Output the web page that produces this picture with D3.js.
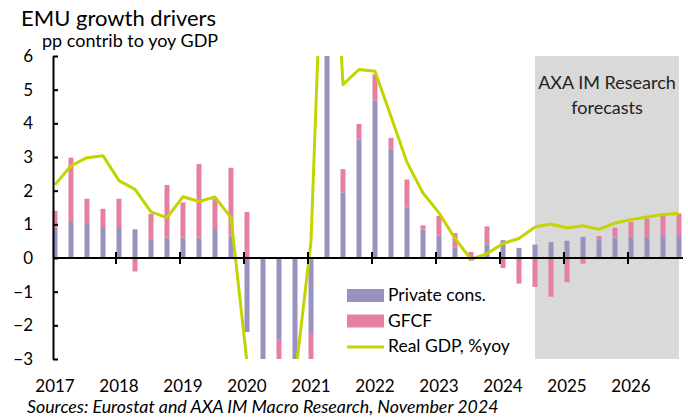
<!DOCTYPE html>
<html>
<head>
<meta charset="utf-8">
<script src="https://d3js.org/d3.v7.min.js"></script>
<style>
body{margin:0;background:#fff;}
svg{display:block;font-family:Lato,'Open Sans',sans-serif;}
</style>
</head>
<body>
<div id="chart"></div>
<script>
// quarterly data, 2017Q1 - 2026Q4
const years = [2017,2018,2019,2020,2021,2022,2023,2024,2025,2026];
const quarters = years.flatMap(y => [1,2,3,4].map(q => `${y}Q${q}`));

const privateCons = [
	0.90, 1.07, 1.04, 0.92,
	0.92, 0.85, 0.57, 0.60,
	0.60, 0.60, 0.86, 0.67,
	-2.20, -7.50, -2.43, -3.50,
	-2.23, 7.50, 1.95, 3.52,
	4.67, 3.21, 1.49, 0.84,
	0.66, 0.30, -0.08, 0.41,
	0.53, 0.30, 0.40, 0.47,
	0.51, 0.63, 0.53, 0.61,
	0.63, 0.63, 0.65, 0.65
];
const gfcf = [
	0.50, 1.91, 0.72, 0.54,
	0.84, -0.40, 0.74, 1.57,
	1.05, 2.19, 0.89, 2.01,
	1.37, -3.50, -0.90, -0.40,
	-1.00, 3.00, 0.69, 0.46,
	0.79, 0.36, 0.84, 0.13,
	0.59, 0.44, 0.18, 0.53,
	-0.30, -0.76, -0.86, -1.15,
	-0.72, -0.17, 0.12, 0.29,
	0.44, 0.54, 0.62, 0.67
];
const realGdp = [
	2.18, 2.74, 2.98, 3.04,
	2.30, 2.04, 1.37, 1.20,
	1.82, 1.68, 1.81, 1.20,
	-3.10, -14.5, -4.10, -3.60,
	0.50, 13.5, 5.15, 5.60,
	5.55, 4.20, 2.84, 1.93,
	1.34, 0.58, -0.04, 0.13,
	0.43, 0.58, 0.92, 1.01,
	0.89, 0.96, 0.85, 1.04,
	1.14, 1.22, 1.29, 1.32
];
const forecastFrom = '2024Q3';
const yTicks = [-3,-2,-1,0,1,2,3,4,5,6];
const seriesNames = ['Private cons.', 'GFCF', 'Real GDP, %yoy'];

const colors = {pc:'#9792c0', gfcf:'#e680a3', gdp:'#c3d500', shade:'#d9d9d9'};

const W = 688, H = 418;
const plotTop = 56, plotBottom = 359;

const svg = d3.select('#chart').append('svg')
	.attr('width', W)
	.attr('height', H);

// index scale; year boundary sits a bit before the Q1 bar
const q1Offset = 0.1875;
const x = d3.scaleLinear()
	.domain([-q1Offset, 40 - q1Offset])
	.range([52, 692]);

const y = d3.scaleLinear()
	.domain([-3, 6])
	.range([plotBottom, plotTop]);

const rows = quarters.map((q, i) => ({q, i, pc:privateCons[i], gfcf:gfcf[i], gdp:realGdp[i]}));

const stacked = d3.stack()
	.keys(['pc','gfcf'])
	.offset(d3.stackOffsetDiverging)(rows);

svg.append('defs').append('clipPath')
	.attr('id','plot-clip')
	.append('rect')
	.attr('x', 40).attr('y', plotTop)
	.attr('width', 660).attr('height', plotBottom - plotTop);

// forecast shading
const f0 = quarters.indexOf(forecastFrom);
svg.append('rect')
	.attr('x', x(f0))
	.attr('y', plotTop)
	.attr('width', x(quarters.length - 1) - x(f0))
	.attr('height', plotBottom - plotTop)
	.style('fill', colors.shade);

const shadeMid = (x(f0) + x(quarters.length - 1)) / 2;
svg.append('text')
	.attr('x', shadeMid).attr('y', 89)
	.attr('text-anchor','middle')
	.style('font-size','18px').style('fill','#222')
	.text('AXA IM Research');
svg.append('text')
	.attr('x', shadeMid).attr('y', 114)
	.attr('text-anchor','middle')
	.style('font-size','18px').style('fill','#222')
	.text('forecasts');

const plot = svg.append('g').attr('clip-path','url(#plot-clip)');

const barW = 5;
plot.selectAll('.series')
	.data(stacked)
	.enter()
	.append('g')
	.attr('class','series')
	.style('fill', d => colors[d.key])
	.selectAll('rect')
	.data(d => d)
	.enter()
	.append('rect')
	.attr('x', d => x(d.data.i) - barW/2)
	.attr('y', d => y(Math.max(d[0], d[1])))
	.attr('width', barW)
	.attr('height', d => Math.abs(y(d[0]) - y(d[1])));

const line = d3.line()
	.x(d => x(d.i))
	.y(d => y(d.gdp));

plot.append('path')
	.datum(rows)
	.attr('d', line)
	.style('fill','none')
	.style('stroke', colors.gdp)
	.style('stroke-width', 3)
	.style('stroke-linejoin','round');

// y axis, ticks pointing inward
const yAxis = svg.append('g')
	.attr('transform','translate(53,0)')
	.call(d3.axisRight(y).tickValues(yTicks).tickSize(5).tickSizeOuter(0).tickFormat(''));
yAxis.select('.domain').attr('stroke','#000').attr('stroke-width',2);
yAxis.selectAll('.tick line').attr('stroke','#000').attr('stroke-width',2);

const yLabels = svg.append('g')
	.attr('transform','translate(33,0)')
	.call(d3.axisLeft(y).tickValues(yTicks).tickSize(0).tickPadding(0).tickFormat(d3.format('d')));
yLabels.select('.domain').remove();
yLabels.selectAll('text')
	.style('font-family','Lato, sans-serif')
	.style('font-size','17px')
	.style('fill','#000');

// zero line with crossing year ticks
svg.append('line')
	.attr('x1', 53).attr('x2', 683)
	.attr('y1', y(0)).attr('y2', y(0))
	.style('stroke','#000').style('stroke-width',2);

const yearTicks = years.slice(1).map((yr, k) => x(4*(k+1) - q1Offset));
svg.selectAll('.xtick')
	.data(yearTicks)
	.enter()
	.append('line')
	.attr('class','xtick')
	.attr('x1', d => d).attr('x2', d => d)
	.attr('y1', y(0) - 6).attr('y2', y(0) + 6)
	.style('stroke','#000').style('stroke-width',2);

svg.selectAll('.xlabel')
	.data(years)
	.enter()
	.append('text')
	.attr('class','xlabel')
	.attr('x', (d, k) => x(4*k - q1Offset) + 3)
	.attr('y', 392)
	.attr('text-anchor','middle')
	.style('font-size','17px')
	.text(d => d);

// legend
const legend = svg.append('g').attr('transform','translate(347,289)');
const legendItems = legend.selectAll('g')
	.data(seriesNames)
	.enter()
	.append('g')
	.attr('transform', (d, i) => `translate(0, ${i*25.5})`);

legendItems.filter((d, i) => i < 2)
	.append('rect')
	.attr('width', 37).attr('height', 13)
	.style('fill', (d, i) => i === 0 ? colors.pc : colors.gfcf);

legendItems.filter((d, i) => i === 2)
	.append('line')
	.attr('x1', 0).attr('x2', 37)
	.attr('y1', 7).attr('y2', 7)
	.style('stroke', colors.gdp).style('stroke-width', 3);

legendItems.append('text')
	.attr('x', 41).attr('y', 12)
	.style('font-size','17.5px')
	.text(d => d);

// titles
svg.append('text')
	.attr('x', 21).attr('y', 26)
	.style('font-size','22px')
	.text('EMU growth drivers');

svg.append('text')
	.attr('x', 42).attr('y', 47)
	.style('font-size','18px')
	.text('pp contrib to yoy GDP');

svg.append('text')
	.attr('x', 27).attr('y', 413)
	.style('font-size','17.8px')
	.style('font-style','italic')
	.text('Sources: Eurostat and AXA IM Macro Research, November 2024');
</script>
</body>
</html>
